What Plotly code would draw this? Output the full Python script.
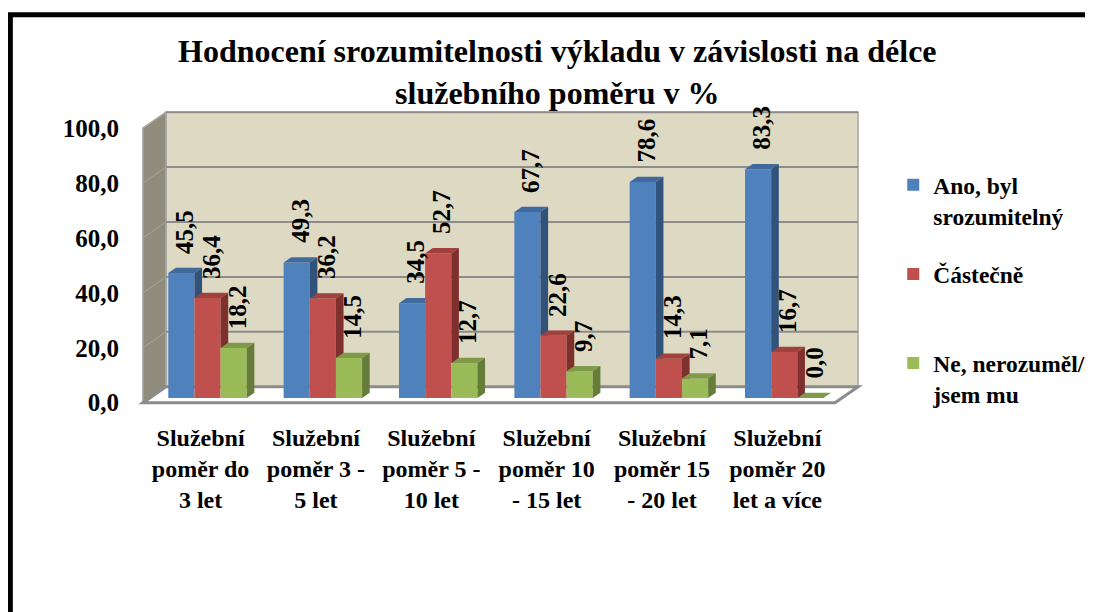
import plotly.graph_objects as go
import numpy as np

# ---------------- data ----------------
categories = [
    "Služební<br>poměr do<br>3 let",
    "Služební<br>poměr 3 -<br>5 let",
    "Služební<br>poměr 5 -<br>10 let",
    "Služební<br>poměr 10<br>- 15 let",
    "Služební<br>poměr 15<br>- 20 let",
    "Služební<br>poměr 20<br>let a více",
]
series_names = ["Ano, byl<br>srozumitelný", "Částečně<br> ", "Ne, nerozuměl/a<br>jsem mu"]
ano = [45.5, 49.3, 34.5, 67.7, 78.6, 83.3]
castecne = [36.4, 36.2, 52.7, 22.6, 14.3, 16.7]
ne = [18.2, 14.5, 12.7, 9.7, 7.1, 0.0]
y_ticks = [0, 20, 40, 60, 80, 100]
y_ticktext = ["0,0", "20,0", "40,0", "60,0", "80,0", "100,0"]
title_text = "Hodnocení srozumitelnosti výkladu v závislosti na délce<br>služebního poměru v %"

# ---------------- style ----------------
OFF = 8                     # page offset of the figure inside the browser window
W, H = 1130, 612            # figure size (part beyond the window is not visible)
FONT = "Liberation Serif"
front_colors = ["#4F81BD", "#C0504D", "#9BBB59"]
top_colors = ["#40699C", "#A0413E", "#7F9A48"]
side_colors = ["#31527A", "#7E302E", "#667D3A"]
WALL = "#DDD9C3"
SIDEWALL = "#8F8C7D"
GRID = "#8C8C8C"

# 3-D box geometry (data units)
DX, DY = 0.2, 5.8           # full depth offset of the box
F0 = 0.3                    # depth fraction where the bars start
FD = 0.33                   # bar depth fraction
BW = 0.2267                 # bar width (category units)

# pixel anchors (window coords) of the front face -> margins (figure coords)
X_LEFT_PX, CAT_PX, Y0_PX, PXU = 143.0 - OFF, 115.3, 403.0 - OFF, 2.75
x_range = [-0.56, 5.76]
y_range = [-1.2, 106.6]
m_l = X_LEFT_PX + (x_range[0] + 0.5) * CAT_PX
m_r = W - (X_LEFT_PX + (x_range[1] + 0.5) * CAT_PX)
m_b = H - (Y0_PX - y_range[0] * PXU)
m_t = Y0_PX - y_range[1] * PXU
pw, ph = W - m_l - m_r, H - m_t - m_b

def px2paper(px, py):
    """window pixel -> paper coords"""
    px, py = px - OFF, py - OFF
    return (px - m_l) / pw, (H - py - m_b) / ph

n = len(categories)
idx = np.arange(n)
values = [ano, castecne, ne]

fig = go.Figure()
shapes = []
annotations = []

x0, x1 = -0.5, n - 0.5
def poly(pts):
    return "M " + " L ".join(f"{a},{b}" for a, b in pts) + " Z"

# walls & floor
shapes.append(dict(type="path", xref="x", yref="y", layer="below",
                   path=poly([(x0 + DX, DY), (x1 + DX, DY), (x1 + DX, 100 + DY), (x0 + DX, 100 + DY)]),
                   fillcolor=WALL, line=dict(color="#A6A6A6", width=1.5)))
shapes.append(dict(type="path", xref="x", yref="y", layer="below",
                   path=poly([(x0, 0), (x0 + DX, DY), (x0 + DX, 100 + DY), (x0, 100)]),
                   fillcolor=SIDEWALL, line=dict(color="#A6A6A6", width=1.5)))
for v in y_ticks[1:]:
    shapes.append(dict(type="line", xref="x", yref="y", layer="below",
                       x0=x0 + DX, y0=v + DY, x1=x1 + DX, y1=v + DY,
                       line=dict(color=GRID, width=2)))
    shapes.append(dict(type="line", xref="x", yref="y", layer="below",
                       x0=x0, y0=v, x1=x0 + DX, y1=v + DY,
                       line=dict(color="#A8A594", width=1)))
shapes.append(dict(type="path", xref="x", yref="y", layer="below",
                   path=poly([(x0, 0), (x1, 0), (x1 + DX, DY), (x0 + DX, DY)]),
                   fillcolor="white", line=dict(color="#8C8C8C", width=3)))

# bars (front faces) + 3-D top/side faces + value labels
bx = F0 * DX
base = F0 * DY
dxb, dyb = FD * DX, FD * DY
for s, (name, vals) in enumerate(zip(series_names, values)):
    off = -1.5 * BW + s * BW
    fig.add_trace(go.Bar(
        x=idx + bx, y=vals, base=base, width=BW, offset=off,
        marker=dict(color=front_colors[s], line=dict(width=0)),
        name=name, legendgroup=name, hoverinfo="skip"))
    for c in range(n):
        v = vals[c]
        xl = c + bx + off
        xr = xl + BW
        top = base + v
        nxt = values[s + 1][c] if s + 1 < len(values) else None
        if nxt is not None and nxt > v:
            pts = [(xl, top), (xl + dxb, top + dyb), (xr, top + dyb), (xr, top)]
        else:
            pts = [(xl, top), (xl + dxb, top + dyb), (xr + dxb, top + dyb), (xr, top)]
        shapes.append(dict(type="path", xref="x", yref="y", layer="above",
                           path=poly(pts), fillcolor=top_colors[s], line=dict(width=0)))
        low = base if nxt is None else base + nxt
        if top > low:
            if nxt is None:
                pts = [(xr, base), (xr + dxb, base + dyb), (xr + dxb, top + dyb), (xr, top)]
            else:
                pts = [(xr, low), (xr, top), (xr + dxb, top + dyb), (xr + dxb, low)]
            shapes.append(dict(type="path", xref="x", yref="y", layer="above",
                               path=poly(pts), fillcolor=side_colors[s], line=dict(width=0)))
        annotations.append(dict(
            x=xl + BW / 2 + dxb / 2, y=top + dyb, xref="x", yref="y",
            text=f"{v:.1f}".replace(".", ","), textangle=-90, showarrow=False,
            xanchor="center", yanchor="bottom", yshift=12,
            font=dict(family=FONT, size=25, color="black", weight="bold")))

# title
tx, ty = px2paper(557, 31)
annotations.append(dict(x=tx, y=ty, xref="paper", yref="paper", text=title_text,
                        showarrow=False, xanchor="center", yanchor="top", align="center",
                        font=dict(family=FONT, size=32, color="black", weight="bold")))

# outer black frame (extends beyond the visible window)
fx0, fy0 = px2paper(10.5, 14.5)
fx1, fy1 = px2paper(W + 40, H + 40)
shapes.append(dict(type="rect", xref="paper", yref="paper", layer="above",
                   x0=fx0, y0=fy1, x1=fx1, y1=fy0,
                   line=dict(color="black", width=5), fillcolor="rgba(0,0,0,0)"))

lx, ly = px2paper(893, 163)

fig.update_layout(
    template="none",
    width=W, height=H, autosize=False,
    paper_bgcolor="white", plot_bgcolor="rgba(0,0,0,0)",
    margin=dict(l=m_l, r=m_r, t=m_t, b=m_b, pad=0),
    barmode="overlay",
    showlegend=True,
    xaxis=dict(range=x_range, tickvals=list(idx), ticktext=categories,
               showgrid=False, zeroline=False, showline=False,
               ticks="outside", ticklen=10, tickcolor="rgba(0,0,0,0)",
               automargin=False, fixedrange=True,
               tickfont=dict(family=FONT, size=24, color="black", weight="bold")),
    yaxis=dict(range=y_range, tickvals=y_ticks, ticktext=y_ticktext,
               showgrid=False, zeroline=False, showline=False,
               ticks="outside", ticklen=11, tickcolor="rgba(0,0,0,0)",
               automargin=False, fixedrange=True,
               tickfont=dict(family=FONT, size=25, color="black", weight="bold")),
    legend=dict(x=lx, y=ly, xanchor="left", yanchor="top", valign="top",
                bgcolor="rgba(0,0,0,0)", borderwidth=0, tracegroupgap=25,
                itemclick=False, itemdoubleclick=False,
                font=dict(family=FONT, size=23.5, color="black", weight="bold")),
    shapes=shapes,
    annotations=annotations,
)

fig.write_html("out.html")
